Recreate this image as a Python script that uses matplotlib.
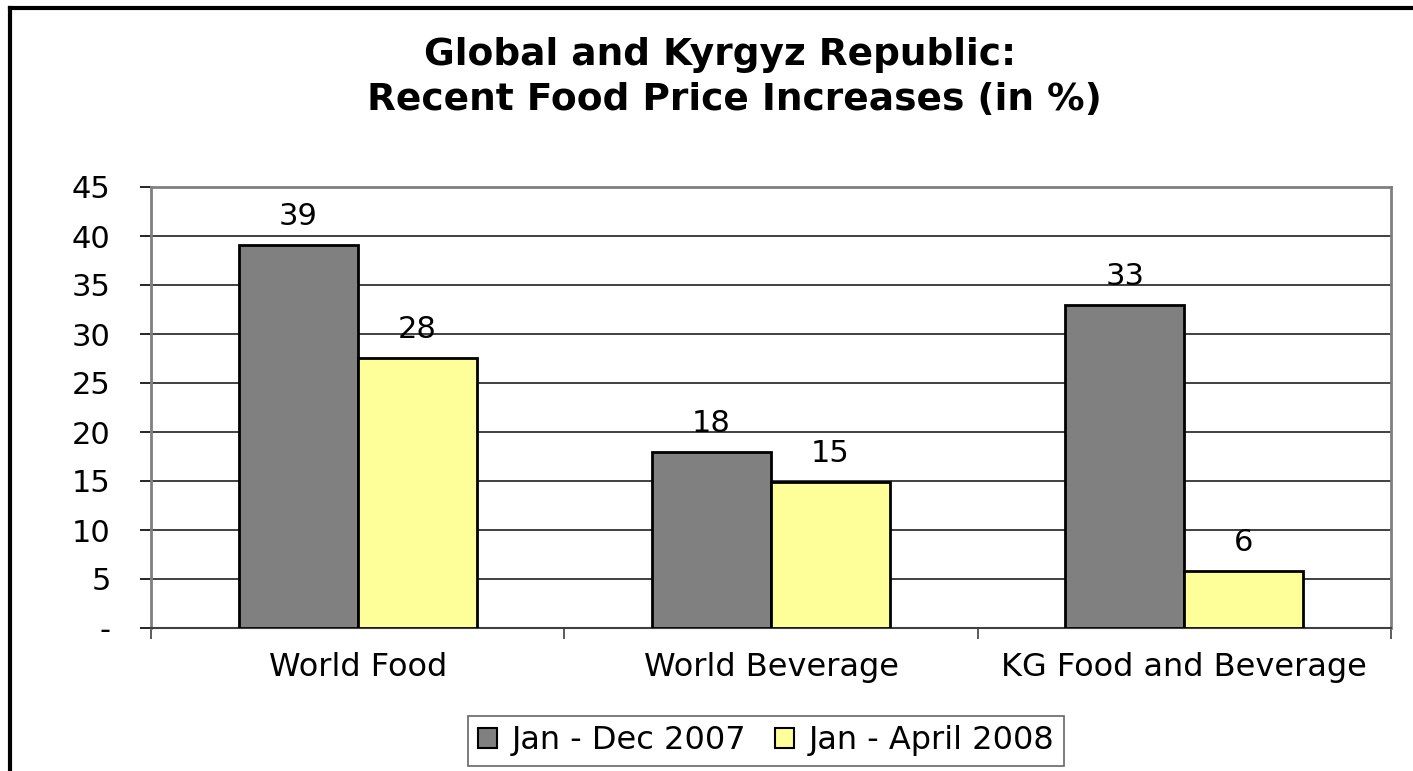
import matplotlib
matplotlib.use("Agg")
import matplotlib.pyplot as plt
from matplotlib.lines import Line2D
from matplotlib.patches import Patch
import numpy as np

plt.rcParams['font.family'] = ['DejaVu Sans']

categories = ["World Food", "World Beverage", "KG Food and Beverage"]
series_names = ["Jan - Dec 2007", "Jan - April 2008"]
values_2007 = [39.1, 18.0, 33.0]
values_2008 = [27.6, 14.9, 5.8]
yticks = [0, 5, 10, 15, 20, 25, 30, 35, 40, 45]
ytick_labels = ["-", "5", "10", "15", "20", "25", "30", "35", "40", "45"]
title_lines = ["Global and Kyrgyz Republic:", "Recent Food Price Increases (in %)"]

colors = ["#808080", "#FFFF99"]

W, H = 1413, 771
fig = plt.figure(figsize=(W / 100, H / 100), dpi=100)

# axes position from pixel coordinates
left, right, top, bottom = 151, 1391, 187, 628
ax = fig.add_axes([left / W, 1 - bottom / H, (right - left) / W, (bottom - top) / H])

x = np.arange(len(categories))
bw = 0.288
b1 = ax.bar(x - bw / 2, values_2007, bw, color=colors[0], edgecolor="black", linewidth=2, zorder=3)
b2 = ax.bar(x + bw / 2, values_2008, bw, color=colors[1], edgecolor="black", linewidth=2, zorder=3)

for bars in (b1, b2):
    for rect in bars:
        v = rect.get_height()
        ax.annotate(f"{v:.0f}", (rect.get_x() + rect.get_width() / 2, v),
                    xytext=(0, 10), textcoords="offset points",
                    ha="center", va="bottom", fontsize=22)

ax.set_xlim(-0.5, len(categories) - 0.5)
ax.set_ylim(0, 45)
ax.set_yticks(yticks)
ax.set_yticklabels(ytick_labels, fontsize=22)
ax.set_xticks(x)
ax.set_xticklabels(categories, fontsize=23)
ax.tick_params(axis="x", length=0, pad=17)
ax.tick_params(axis="y", length=8, width=1.2, pad=21, colors="black")
ax.set_xticks(np.arange(len(categories) + 1) - 0.5, minor=True)
ax.tick_params(axis="x", which="minor", length=8, width=1.2, color="#404040", direction="out")
for lbl in ax.get_yticklabels():
    lbl.set_horizontalalignment("right")

ax.grid(axis="y", color="#202020", linewidth=1.2, zorder=0)
ax.set_axisbelow(True)
for s in ("left", "right", "top"):
    ax.spines[s].set_color("#808080")
    ax.spines[s].set_linewidth(2)
ax.spines["bottom"].set_color("#404040")
ax.spines["bottom"].set_linewidth(1.5)

fig.text(720 / W, 1 - 65 / H, title_lines[0], ha="center", va="baseline", fontsize=27, fontweight="bold")
fig.text(734 / W, 1 - 110 / H, title_lines[1], ha="center", va="baseline", fontsize=27, fontweight="bold")

handles = [Patch(facecolor=colors[0], edgecolor="black", linewidth=1.5),
           Patch(facecolor=colors[1], edgecolor="black", linewidth=1.5)]
leg = fig.legend(handles, series_names, loc="center", bbox_to_anchor=(766 / W, 1 - 741 / H),
                 ncol=2, fontsize=23, frameon=True, fancybox=False, edgecolor="#404040",
                 handlelength=0.6, handleheight=0.6, handletextpad=0.45, columnspacing=0.9,
                 borderpad=0.3, borderaxespad=0)
leg.get_frame().set_linewidth(1.2)

# outer frame (top and left edges visible)
fig.add_artist(Line2D([9.5 / W, 1], [1 - 8 / H, 1 - 8 / H], color="black", linewidth=3, transform=fig.transFigure))
fig.add_artist(Line2D([9.5 / W, 9.5 / W], [0, 1 - 8 / H], color="black", linewidth=3, transform=fig.transFigure))

fig.savefig("out.png", dpi=100)
